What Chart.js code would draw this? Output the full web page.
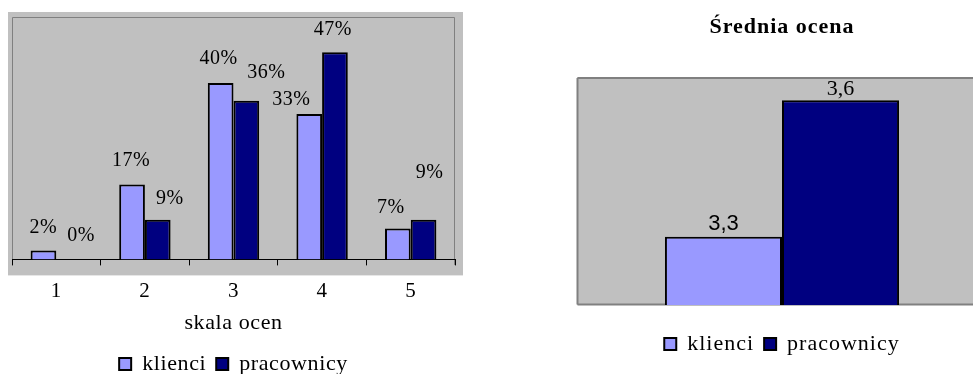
<!DOCTYPE html>
<html>
<head>
<meta charset="utf-8">
<script src="https://cdn.jsdelivr.net/npm/chart.js@4/dist/chart.umd.min.js"></script>
<style>
  html, body { margin: 0; padding: 0; background: #fff; overflow: hidden; width: 973px; height: 374px; }
  #dist { position: absolute; left: 0; top: 0; }
  #avg { position: absolute; left: 560px; top: 0; }
</style>
</head>
<body>
<canvas id="dist" width="470" height="374"></canvas>
<canvas id="avg" width="440" height="374"></canvas>
<script>
// Rating scale and share of answers (%) per group
const ratings = ['1', '2', '3', '4', '5'];
const clientShare = [2, 17, 40, 33, 7];
const staffShare = [0, 9, 36, 47, 9];

// Mean rating per group
const avgCategory = [''];
const clientAvg = [3.3];
const staffAvg = [3.6];

const seriesNames = ['klienci', 'pracownicy'];

const LIGHT = '#9999FF';
const NAVY = '#000080';
const PANEL = '#C0C0C0';
const EDGE = '#808080';
const SERIF = '"Liberation Serif", "Times New Roman", serif';
const SANS = '"Liberation Sans", Arial, sans-serif';

// Label offsets from the top-centre of each bar, [dx, dy]
const clientLabelShift = [[0, -23], [-1, -24], [-2, -24], [-18, -14], [-7, -21]];
const staffLabelShift = [[12, -24], [12, -21], [20, -28], [-2, -23], [6, -47]];

// Text tracking for all canvas text of a chart
const tracking = {
  id: 'tracking',
  beforeLayout(chart, args, opts) { chart.ctx.letterSpacing = (opts.px || 0) + 'px'; },
  beforeDraw(chart, args, opts) { chart.ctx.letterSpacing = (opts.px || 0) + 'px'; }
};

// Grey panel behind the plot with a thin darker edge
const panel = {
  id: 'panel',
  beforeDraw(chart, args, opts) {
    const { ctx, chartArea: a } = chart;
    const o = opts.outset || [0, 0, 0, 0]; // left, top, right, bottom
    ctx.save();
    ctx.fillStyle = PANEL;
    ctx.fillRect(a.left - o[0], a.top - o[1], (a.right + o[2]) - (a.left - o[0]), (a.bottom + o[3]) - (a.top - o[1]));
    ctx.strokeStyle = EDGE;
    ctx.lineWidth = opts.edgeWidth || 1;
    ctx.beginPath();
    const t = a.top + 0.5, l = a.left + 0.5, r = a.right - 0.5, b = a.bottom - 0.5;
    const drop = opts.drop || 0;
    const edges = opts.edges || 'ltr';
    if (edges.includes('l')) { ctx.moveTo(l, b + drop); ctx.lineTo(l, t); }
    if (edges.includes('t')) { ctx.moveTo(l, t); ctx.lineTo(r, t); }
    if (edges.includes('r')) { ctx.moveTo(r, t); ctx.lineTo(r, b + drop); }
    if (edges.includes('b')) { ctx.moveTo(l, b); ctx.lineTo(r, b); }
    ctx.stroke();
    ctx.restore();
  }
};

// Value text above each bar
const valueLabels = {
  id: 'valueLabels',
  afterDatasetsDraw(chart, args, opts) {
    const ctx = chart.ctx;
    chart.data.datasets.forEach((ds, i) => {
      const meta = chart.getDatasetMeta(i);
      meta.data.forEach((bar, j) => {
        const shift = opts.shifts ? opts.shifts[i][j] : [0, -12];
        ctx.save();
        ctx.letterSpacing = (opts.spacing || 0) + 'px';
        ctx.font = opts.fonts[i];
        ctx.fillStyle = '#000';
        ctx.textAlign = 'center';
        ctx.textBaseline = 'middle';
        ctx.fillText(opts.format(ds.data[j]), bar.x + shift[0], bar.y + shift[1]);
        ctx.restore();
      });
    });
  }
};

const legendOpts = (size, pad) => ({
  position: 'bottom',
  labels: {
    boxWidth: 12, boxHeight: 12, padding: pad,
    color: '#000', font: { family: SERIF, size: size }
  }
});

// Distribution of ratings
new Chart(document.getElementById('dist'), {
  type: 'bar',
  data: {
    labels: ratings,
    datasets: [
      { label: seriesNames[0], data: clientShare, backgroundColor: LIGHT, borderColor: '#000', borderWidth: 2 },
      { label: seriesNames[1], data: staffShare, backgroundColor: NAVY, borderColor: '#000', borderWidth: 2 }
    ]
  },
  options: {
    responsive: false,
    animation: false,
    layout: { padding: { left: 12, right: 15, top: 17, bottom: -11 } },
    datasets: { bar: { categoryPercentage: 0.58, barPercentage: 1 } },
    scales: {
      x: {
        grid: { offset: true, drawOnChartArea: false, drawTicks: true, tickLength: 6, color: '#000' },
        border: { color: '#000', width: 1 },
        ticks: { color: '#000', padding: 13, font: { family: SERIF, size: 21 } },
        title: { display: true, text: 'skala ocen', color: '#000', font: { family: SERIF, size: 22 }, padding: { top: -7, bottom: 7 } }
      },
      y: { display: false, min: 0, max: 55 }
    },
    plugins: {
      tracking: { px: 0.6 },
      panel: { outset: [4, 5, 8, 16], edges: 'ltr', drop: 6 },
      legend: legendOpts(22, 10),
      tooltip: { enabled: false },
      valueLabels: {
        fonts: ['20px ' + SERIF, '20px ' + SERIF],
        spacing: 0.5,
        shifts: [clientLabelShift, staffLabelShift],
        format: v => v + '%'
      }
    }
  },
  plugins: [tracking, panel, valueLabels]
});

// Mean rating
new Chart(document.getElementById('avg'), {
  type: 'bar',
  data: {
    labels: avgCategory,
    datasets: [
      { label: seriesNames[0], data: clientAvg, backgroundColor: LIGHT, borderColor: '#000', borderWidth: 2 },
      { label: seriesNames[1], data: staffAvg, backgroundColor: NAVY, borderColor: '#000', borderWidth: 2 }
    ]
  },
  options: {
    responsive: false,
    animation: false,
    layout: { padding: { left: 17, right: 13, top: 0, bottom: 9 } },
    datasets: { bar: { categoryPercentage: 0.571, barPercentage: 1 } },
    scales: {
      x: {
        display: true,
        grid: { display: false, drawTicks: false },
        border: { display: false },
        ticks: { display: false },
        afterFit(scale) { scale.height = 18; }
      },
      y: { display: false, min: 3.15, max: 3.65 }
    },
    plugins: {
      tracking: { px: 1.0 },
      panel: { outset: [0, 0, 0, 0], edges: 'ltrb', edgeWidth: 2 },
      title: {
        display: true, text: 'Średnia ocena', color: '#000',
        font: { family: SERIF, size: 22, weight: 'bold' },
        padding: { top: 14, bottom: 37 }
      },
      legend: legendOpts(22, 10),
      tooltip: { enabled: false },
      valueLabels: {
        fonts: ['22px ' + SANS, '22px ' + SERIF],
        spacing: 0,
        shifts: [[[0, -13]], [[0, -11]]],
        format: v => v.toFixed(1).replace('.', ',')
      }
    }
  },
  plugins: [tracking, panel, valueLabels]
});
</script>
</body>
</html>
